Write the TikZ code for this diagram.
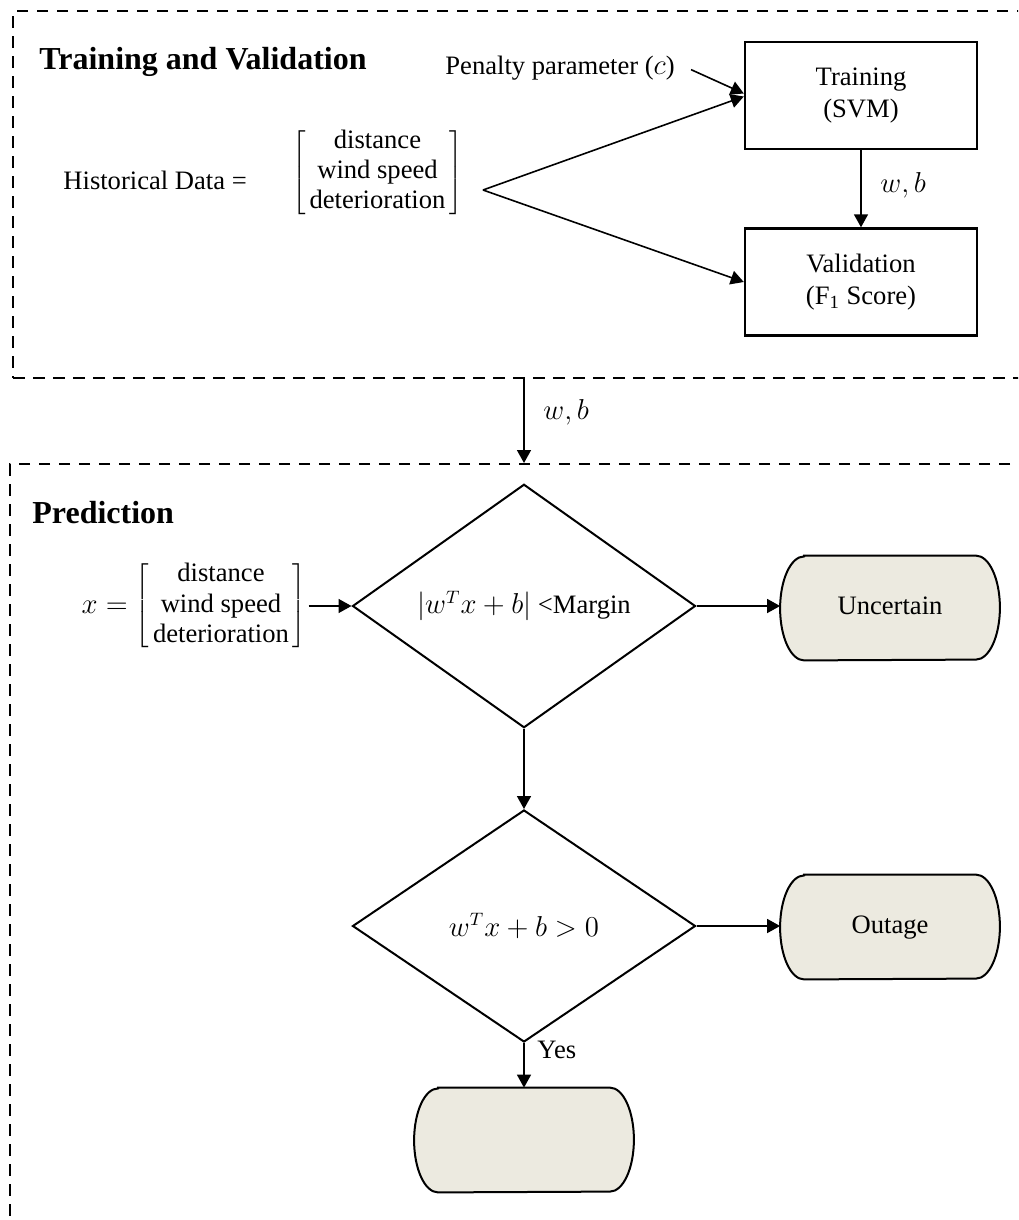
\documentclass[tikz,border=0pt]{standalone}
\usepackage{fontspec}
\setmainfont{Liberation Serif}
\usepackage{xcolor}
\usepackage{tikz}
\usetikzlibrary{positioning,shapes.geometric,arrows.meta,backgrounds}
\definecolor{termfill}{RGB}{236,234,224}
\renewcommand{\arraystretch}{0.94}
\newcommand{\featvec}{\left[\begin{tabular}{@{\hspace{2pt}}c@{\hspace{2pt}}}distance\\wind speed\\deterioration\end{tabular}\right]}

\begin{document}
\begin{tikzpicture}[
       x=0.5pt, y=-0.5pt,
       font=\fontsize{13.3}{16}\selectfont,
       section/.style={
           draw,
           dash pattern=on 5.8pt off 4.2pt,
           line width=1.1pt,
           anchor=north west,
           inner sep=0
       },
       heading/.style={
           font=\fontsize{16}{19}\selectfont\bfseries,
           anchor=base west,
           inner sep=0
       },
       procbox/.style={
           rectangle,
           draw,
           line width=1.2pt,
           minimum width=116pt,
           minimum height=53.5pt,
           align=center
       },
       decision/.style={
           diamond,
           draw,
           line width=1pt,
           minimum width=171.5pt,
           inner sep=0
       },
       terminal/.style={
           rectangle,
           minimum width=109.5pt,
           minimum height=52pt,
           text height=9pt,
           text depth=2.5pt
       },
       termline/.style={draw, fill=termfill, line width=1pt},
       vec/.style={inner sep=1pt},
       arrow/.style={-{Triangle[length=6.5pt,width=7pt]}, line width=0.8pt}
   ]

   \useasboundingbox (0,0) rectangle (1018,1220);
   \clip (0,0) rectangle (1018,1220);


   % Training and validation part
   \node[section, minimum width=517pt, minimum height=183.5pt] (trainsec) at (12,10) {};
   \node[heading] (trainhead) at (39,70) {Training and Validation};
   \node[anchor=base west, inner sep=0] (pen) at (445,75) {Penalty parameter ($c$)};
   \node[anchor=base west, inner sep=0] (hist) at (63,189) {Historical Data =};
   \node[vec] (histvec) at (377.5,172.5) {$\featvec$};
   \coordinate (split) at (483,190);

   \node[procbox] (train) at (861,95.5) {Training\\(SVM)};
   \node[procbox] (valid) at (861,282) {Validation\\(F\textsubscript{1} Score)};


   \draw[arrow] ([xshift=8pt,yshift=-0.5pt]pen.east) -- ([yshift=1pt]train.west);
   \draw[arrow] (split) -- ([yshift=-0.5pt]train.west);
   \draw[arrow] (split) -- (valid.west);
   \draw[arrow] (train) -- node[right=6pt, pos=0.45] {$w, b$} (valid);


   % Prediction part
   \node[section, minimum width=520pt, minimum height=400pt] (predsec) at (9,463) {};
   \node[heading] (predhead) at (32,523) {Prediction};
   \node[vec] (xin) at (194,606) {$x = \featvec$};

   \node[decision, minimum height=120pt] (diam1) at (524,606) {$|w^T x + b|$ <Margin};
   \node[decision, minimum height=116pt] (diam2) at (524,926) {$w^T x + b > 0$};

   \node[terminal] (unc) at (890,608) {Uncertain};
   \node[terminal] (out) at (890,927) {Outage};
   \node[terminal] (final) at (524,1140) {};


   % Connectors
   \draw[arrow] (trainsec.south -| diam1.north) -- node[right=6pt, pos=0.4] {$w, b$} (predsec.north -| diam1.north);
   \draw[arrow] (xin.east) -- (diam1.west);
   \draw[arrow] (diam1.east) -- (diam1.east -| unc.west);
   \draw[arrow] (diam1.south) -- (diam2.north);
   \draw[arrow] (diam2.east) -- (diam2.east -| out.west);
   \draw[arrow] (diam2.south) -- node[right=3pt, pos=0.15] {Yes} (final.north);


   % Terminal outlines
   \begin{scope}[on background layer]
       \foreach \t in {unc,out,final}
           \draw[termline] ([xshift=12pt]\t.north west) -- ([xshift=-12pt]\t.north east)
               arc[start angle=90, end angle=-90, x radius=12pt, y radius=26pt]
               -- ([xshift=12pt]\t.south west)
               arc[start angle=270, end angle=90, x radius=12pt, y radius=26pt] -- cycle;
   \end{scope}

   \end{tikzpicture}
\end{document}
